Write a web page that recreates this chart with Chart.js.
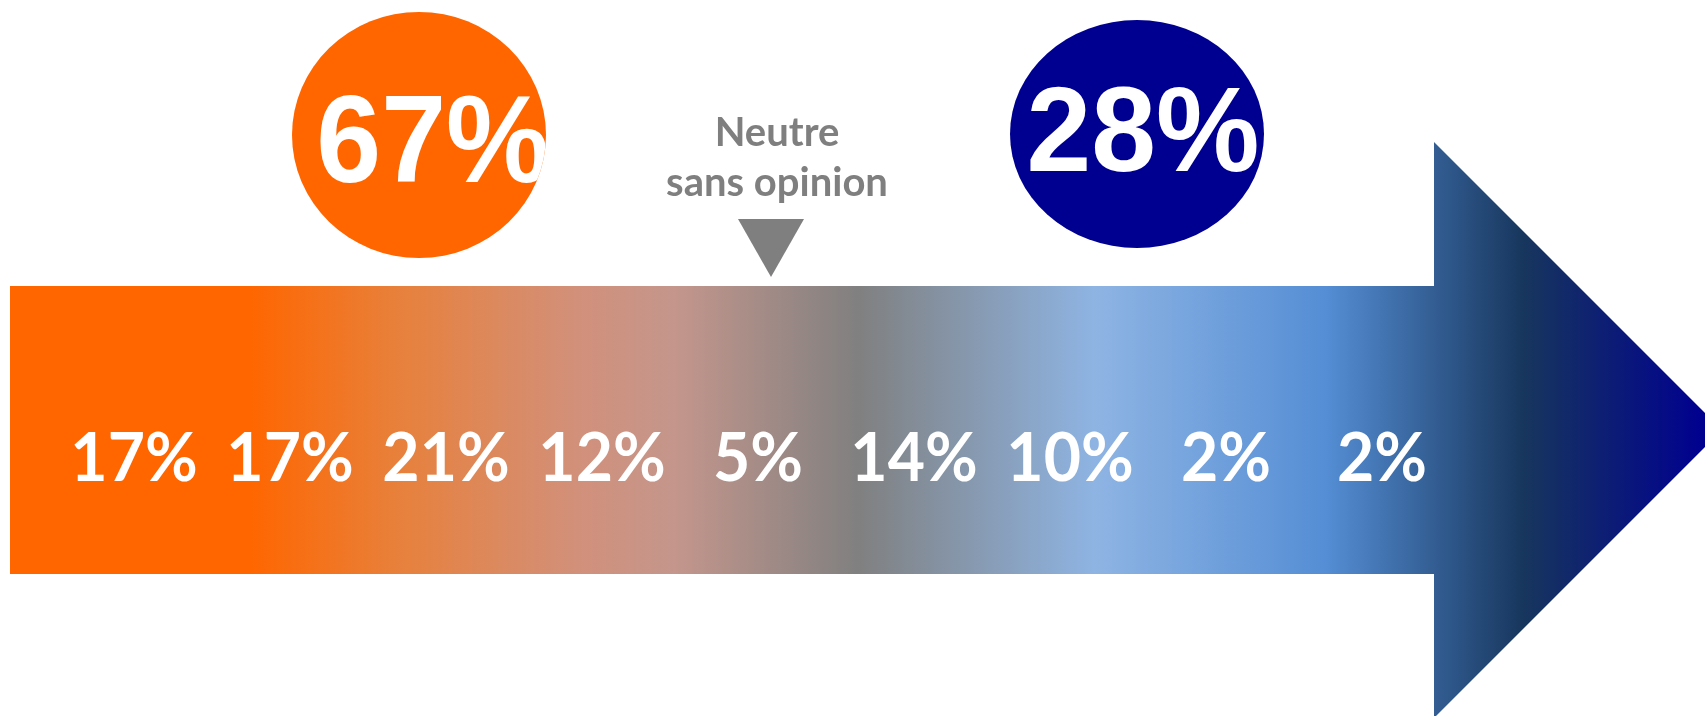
<!DOCTYPE html>
<html lang="fr">
<head>
<meta charset="UTF-8">
<title>Répartition des réponses</title>
<script src="https://cdn.jsdelivr.net/npm/chart.js"></script>
<style>
  html, body { margin: 0; padding: 0; background: #fff; overflow: hidden; }
  #wrap { width: 1705px; height: 716px; }
</style>
</head>
<body>
<div id="wrap"><canvas id="echelle"></canvas></div>
<script>
// niveaux de l'échelle (du plus favorable au plus défavorable)
const niveaux = ['1', '2', '3', '4', '5', '6', '7', '8', '9'];
const pourcentages = [17, 17, 21, 12, 5, 14, 10, 2, 2];
// regroupements affichés dans les pastilles
const totalFavorable = 67;
const totalDefavorable = 28;
const libelleNeutre = ['Neutre', 'sans opinion'];

// dessin de la flèche, des pastilles et du repère neutre
const decor = {
  id: 'decor',
  beforeDatasetsDraw(chart) {
    const ctx = chart.ctx;
    ctx.save();

    // flèche en dégradé orange -> gris -> bleu (la pointe sort un peu du cadre)
    const g = ctx.createLinearGradient(10, 0, 1705, 0);
    g.addColorStop(0, '#FF6600');
    g.addColorStop(0.142, '#FF6600');
    g.addColorStop(0.227, '#E8803A');
    g.addColorStop(0.334, '#D2907A');
    g.addColorStop(0.392, '#C4968C');
    g.addColorStop(0.501, '#808080');
    g.addColorStop(0.64, '#8EB4E3');
    g.addColorStop(0.776, '#558ED5');
    g.addColorStop(0.893, '#17365D');
    g.addColorStop(1, '#000090');
    ctx.beginPath();
    ctx.moveTo(10, 286);
    ctx.lineTo(1434, 286);
    ctx.lineTo(1434, 142);
    ctx.lineTo(1722, 430);
    ctx.lineTo(1434, 718);
    ctx.lineTo(1434, 574);
    ctx.lineTo(10, 574);
    ctx.closePath();
    ctx.fillStyle = g;
    ctx.fill();

    // pastilles
    const pastille = (cx, cy, rx, ry, couleur, texte, tx, base, taille, sx) => {
      ctx.save();
      ctx.beginPath();
      ctx.ellipse(cx, cy, rx, ry, 0, 0, Math.PI * 2);
      ctx.fillStyle = couleur;
      ctx.fill();
      ctx.clip();
      ctx.translate(tx, base);
      ctx.scale(sx, 1);
      ctx.fillStyle = '#fff';
      ctx.font = 'bold ' + taille + 'px "Liberation Sans", Arial, sans-serif';
      ctx.textAlign = 'center';
      ctx.textBaseline = 'alphabetic';
      ctx.fillText(texte, 0, 0);
      ctx.restore();
    };
    pastille(419, 135, 127, 123, '#FF6600', totalFavorable + '%', 433, 182, 124, 0.94);
    pastille(1137, 134, 127, 114, '#000090', totalDefavorable + '%', 1143, 171, 120, 0.97);

    // repère neutre
    ctx.fillStyle = '#7F7F7F';
    ctx.font = 'bold 40px Lato, "Open Sans", sans-serif';
    ctx.textAlign = 'center';
    ctx.textBaseline = 'alphabetic';
    ctx.fillText(libelleNeutre[0], 777, 146);
    ctx.fillText(libelleNeutre[1], 777, 196);
    ctx.beginPath();
    ctx.moveTo(738, 219);
    ctx.lineTo(804, 219);
    ctx.lineTo(771, 277);
    ctx.closePath();
    ctx.fill();

    ctx.restore();
  },
  afterDatasetsDraw(chart) {
    const ctx = chart.ctx;
    const meta = chart.getDatasetMeta(0);
    ctx.save();
    ctx.fillStyle = '#fff';
    ctx.font = 'bold 67px Lato, "Open Sans", sans-serif';
    ctx.textAlign = 'center';
    ctx.textBaseline = 'alphabetic';
    meta.data.forEach((el, i) => {
      ctx.save();
      ctx.translate(el.x, 481);
      ctx.scale(0.96, 1);
      ctx.fillText(pourcentages[i] + '%', 0, 0);
      ctx.restore();
    });
    ctx.restore();
  }
};

new Chart(document.getElementById('echelle'), {
  type: 'bar',
  data: {
    labels: niveaux,
    datasets: [{
      label: 'Réponses (%)',
      data: pourcentages,
      backgroundColor: 'rgba(0,0,0,0)',
      borderWidth: 0
    }]
  },
  options: {
    responsive: true,
    maintainAspectRatio: false,
    animation: false,
    events: [],
    layout: { padding: { left: 56, right: 245, top: 286, bottom: 142 } },
    plugins: {
      legend: { display: false },
      tooltip: { enabled: false }
    },
    scales: {
      x: { display: false },
      y: { display: false, min: 0, max: 100 }
    }
  },
  plugins: [decor]
});
</script>
</body>
</html>
